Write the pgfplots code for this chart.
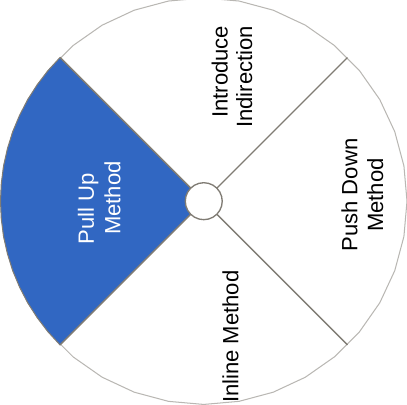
\documentclass[border=0pt]{standalone}
\usepackage{pgfplots}
\pgfplotsset{compat=1.18}
\usepackage{fontspec}
\setmainfont{Liberation Sans}

\definecolor{pieblue}{RGB}{49,103,194}
\definecolor{rimgray}{RGB}{128,124,116}

% wheel geometry in pixels: centre (0,0), outer radius 198, hub radius 18
% four equal sectors, boundaries at 45, 135, 225 and 315 degrees
\begin{document}
\begin{tikzpicture}
  \begin{axis}[
    width=403pt, height=407pt, scale only axis,
    xmin=-205, xmax=198, ymin=-211, ymax=196,
    hide axis, clip=true,
    data cs=polar,
    ]
    % outer rim
    \addplot[draw=rimgray!55, line width=1pt, fill=white] coordinates {
      (0,198) (10,198) (20,198) (30,198) (40,198) (50,198) (60,198) (70,198)
      (80,198) (90,198) (100,198) (110,198) (120,198) (130,198) (140,198)
      (150,198) (160,198) (170,198) (180,198) (190,198) (200,198) (210,198)
      (220,198) (230,198) (240,198) (250,198) (260,198) (270,198) (280,198)
      (290,198) (300,198) (310,198) (320,198) (330,198) (340,198) (350,198)
      (360,198)} -- cycle;
    % selected sector: Pull Up Method
    \addplot[draw=rimgray, line width=1pt, fill=pieblue] coordinates {
      (0,0) (135,198) (140,198) (145,198) (150,198) (155,198) (160,198)
      (165,198) (170,198) (175,198) (180,198) (185,198) (190,198) (195,198)
      (200,198) (205,198) (210,198) (215,198) (220,198) (225,198)} -- cycle;
    % sector boundaries
    \addplot[rimgray, line width=1.3pt] coordinates {(45,18) (45,198)};
    \addplot[rimgray, line width=1.3pt] coordinates {(135,18) (135,198)};
    \addplot[rimgray, line width=1.3pt] coordinates {(225,18) (225,198)};
    \addplot[rimgray, line width=1.3pt] coordinates {(315,18) (315,198)};
    % hub
    \addplot[draw=rimgray, line width=1.3pt, fill=white] coordinates {
      (0,18) (15,18) (30,18) (45,18) (60,18) (75,18) (90,18) (105,18)
      (120,18) (135,18) (150,18) (165,18) (180,18) (195,18) (210,18)
      (225,18) (240,18) (255,18) (270,18) (285,18) (300,18) (315,18)
      (330,18) (345,18) (360,18)} -- cycle;

    \begin{scope}[every node/.style={rotate=90, anchor=center, inner sep=0pt,
        font=\fontsize{21.5}{25}\selectfont}]
      \node at (axis cs:15.5,126) {Introduce};
      \node at (axis cs:39.5,121) {Indirection};
      \node at (axis cs:142,6) {Push Down};
      \node at (axis cs:167,6) {Method};
      \node[text=white] at (axis cs:-112.5,-7.5) {Pull Up};
      \node[text=white] at (axis cs:-89,3) {Method};
      \node at (axis cs:26,-132) {Inline Method};
    \end{scope}
  \end{axis}
\end{tikzpicture}
\end{document}
